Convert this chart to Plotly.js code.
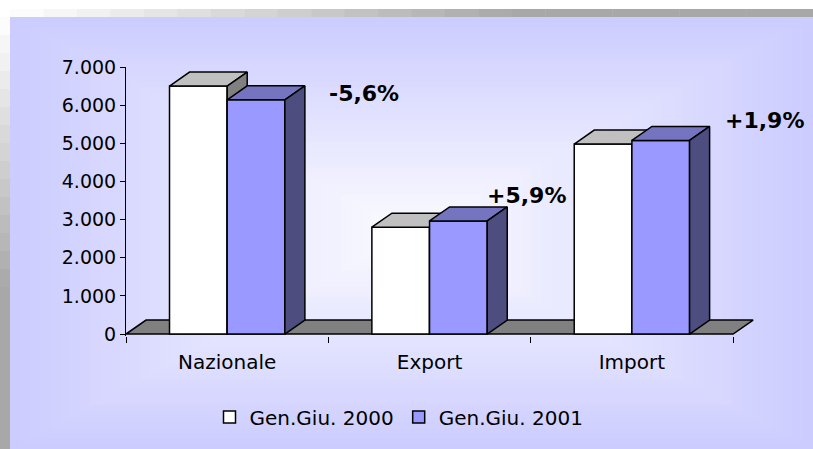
<!DOCTYPE html>
<html>
<head>
<meta charset="utf-8">
<script src="https://cdn.plot.ly/plotly-3.0.1.min.js"></script>
<style>html,body{margin:0;padding:0;background:#fff;}#chart{width:813px;height:449px;}</style>
</head>
<body>
<div id="chart"></div>
<script>
// ---- data ----
const categories = ['Nazionale', 'Export', 'Import'];
const series2000 = [6500, 2800, 4980];
const series2001 = [6140, 2965, 5075];
const seriesNames = ['Gen.Giu. 2000', 'Gen.Giu. 2001'];
const changeLabels = ['-5,6%', '+5,9%', '+1,9%'];
const yTickValues = [0, 1000, 2000, 3000, 4000, 5000, 6000, 7000];

// ---- style / geometry ----
const FONT = 'DejaVu Sans';
const W = 813, H = 449;
const M = {l: 126, r: 53, t: 67, b: 113};
const XR = [-0.5, 2.633];
const YR = [-52, 7000];
const BARW = 0.285;       // bar width in category units
const DX = 0.099;         // 3D depth, x (category units)
const DY = 367;           // 3D depth, y (data units)
const labelPixelPos = [[364, 93], [526, 195], [764, 120]];

const idx = categories.map((_, i) => i);

function faces(vals, offset) {
  const top = {x: [], y: []}, side = {x: [], y: []};
  vals.forEach((v, i) => {
    const x0 = i + offset, x1 = x0 + BARW;
    top.x.push(x0, x1, x1 + DX, x0 + DX, x0, null);
    top.y.push(v, v, v + DY, v + DY, v, null);
    side.x.push(x1, x1, x1 + DX, x1 + DX, x1, null);
    side.y.push(0, v, v + DY, DY, 0, null);
  });
  return {top, side};
}

function series(vals, name, offset, front, topC, sideC, yax) {
  const f = faces(vals, offset);
  return [
    {type: 'bar', x: idx, y: vals, name: name, width: BARW, offset: offset,
     xaxis: 'x', yaxis: yax,
     marker: {color: front, line: {color: '#000', width: 1.5}}, hoverinfo: 'skip'},
    {type: 'scatter', mode: 'lines', x: f.top.x, y: f.top.y, fill: 'toself', fillcolor: topC,
     line: {color: '#000', width: 1.5}, showlegend: false, hoverinfo: 'skip', xaxis: 'x', yaxis: yax},
    {type: 'scatter', mode: 'lines', x: f.side.x, y: f.side.y, fill: 'toself', fillcolor: sideC,
     line: {color: '#000', width: 1.5}, showlegend: false, hoverinfo: 'skip', xaxis: 'x', yaxis: yax}
  ];
}

const floorX = [XR[0], 2.5, 2.5 + DX, XR[0] + DX, XR[0]];
const floorY = [0, 0, DY, DY, 0];

const traces = [
  {type: 'scatter', mode: 'lines', x: floorX, y: floorY, fill: 'toself', fillcolor: '#808080',
   line: {color: '#000', width: 1.5}, showlegend: false, hoverinfo: 'skip', xaxis: 'x', yaxis: 'y'},
  ...series(series2000, seriesNames[0], -BARW, '#FFFFFF', '#C0C0C0', '#808080', 'y2'),
  ...series(series2001, seriesNames[1], 0, '#9999FF', '#7474C0', '#4D4D80', 'y3')
];

// ---- background decoration (stepped gradients, in paper coords) ----
const pw = W - M.l - M.r, ph = H - M.t - M.b;
const px = v => (v - M.l) / pw;
const py = v => (H - M.b - v) / ph;
function lerpColor(a, b, t) {
  const ca = [parseInt(a.slice(1,3),16), parseInt(a.slice(3,5),16), parseInt(a.slice(5,7),16)];
  const cb = [parseInt(b.slice(1,3),16), parseInt(b.slice(3,5),16), parseInt(b.slice(5,7),16)];
  return 'rgb(' + ca.map((c, i) => Math.round(c + (cb[i] - c) * t)).join(',') + ')';
}
const shapes = [];
// frame strips
const NS = 24;
for (let k = 0; k < NS; k++) {
  const x0 = 10 + (W - 10) * k / NS, x1 = 10 + (W - 10) * (k + 1) / NS;
  shapes.push({type: 'rect', xref: 'paper', yref: 'paper', layer: 'below',
    x0: px(x0), x1: px(x1 + 0.5), y0: py(17), y1: py(9),
    line: {width: 0}, fillcolor: lerpColor('#FFFFFF', '#A8A8A8', Math.min(1, (k + 0.5) / NS * 1.6))});
  const y0 = 17 + (H - 17) * k / NS, y1 = 17 + (H - 17) * (k + 1) / NS;
  shapes.push({type: 'rect', xref: 'paper', yref: 'paper', layer: 'below',
    x0: px(0), x1: px(10), y0: py(y1 + 0.5), y1: py(y0),
    line: {width: 0}, fillcolor: lerpColor('#FFFFFF', '#A8A8A8', Math.min(1, (k + 0.5) / NS * 1.6))});
}
// lavender path gradient
const cx = 411.5, cy = 233, hw = 401.5, hh = 216;
const NG = 40;
for (let k = 0; k < NG; k++) {
  const s = 1 - k / NG;
  shapes.push({type: 'rect', xref: 'paper', yref: 'paper', layer: 'below',
    x0: px(cx - hw * s), x1: px(cx + hw * s), y0: py(cy + hh * s), y1: py(cy - hh * s),
    line: {width: 0}, fillcolor: lerpColor('#CCCCFF', '#FCFCFF', k / NG)});
}

const annotations = changeLabels.map((t, i) => ({
  text: t, xref: 'paper', yref: 'paper',
  x: px(labelPixelPos[i][0]), y: py(labelPixelPos[i][1]),
  showarrow: false, xanchor: 'center', yanchor: 'middle',
  font: {family: FONT, size: 22, color: '#000', weight: 'bold'}
}));

const hidden = {overlaying: 'y', range: YR, visible: false, fixedrange: true};

const layout = {
  width: W, height: H,
  margin: M,
  paper_bgcolor: '#FFFFFF',
  plot_bgcolor: 'rgba(0,0,0,0)',
  separators: ',.',
  barmode: 'overlay',
  showlegend: true,
  legend: {orientation: 'h', x: px(399), xanchor: 'center', y: py(417), yanchor: 'middle',
    font: {family: FONT, size: 20, color: '#000'}, bgcolor: 'rgba(0,0,0,0)', itemwidth: 30,
    traceorder: 'normal'},
  font: {family: FONT, color: '#000'},
  xaxis: {type: 'linear', range: XR, tickvals: idx, ticktext: categories, ticks: '',
    showline: false, showgrid: false, zeroline: false, fixedrange: true,
    tickfont: {family: FONT, size: 20, color: '#000'}, ticklabelstandoff: 12,
    minor: {tickmode: 'linear', tick0: 0.5, dtick: 1, ticks: 'outside', ticklen: 6,
      tickcolor: '#000', tickwidth: 1, showgrid: false}},
  yaxis: {range: YR, tickvals: yTickValues, tickformat: ',d', ticks: 'outside', ticklen: 5,
    tickcolor: '#000', showline: true, linecolor: '#000', linewidth: 1, showgrid: false,
    zeroline: false, fixedrange: true, tickfont: {family: FONT, size: 19, color: '#000'}},
  yaxis2: hidden,
  yaxis3: Object.assign({}, hidden),
  shapes: shapes,
  annotations: annotations
};

Plotly.newPlot('chart', traces, layout, {displayModeBar: false, staticPlot: true});
</script>
</body>
</html>
